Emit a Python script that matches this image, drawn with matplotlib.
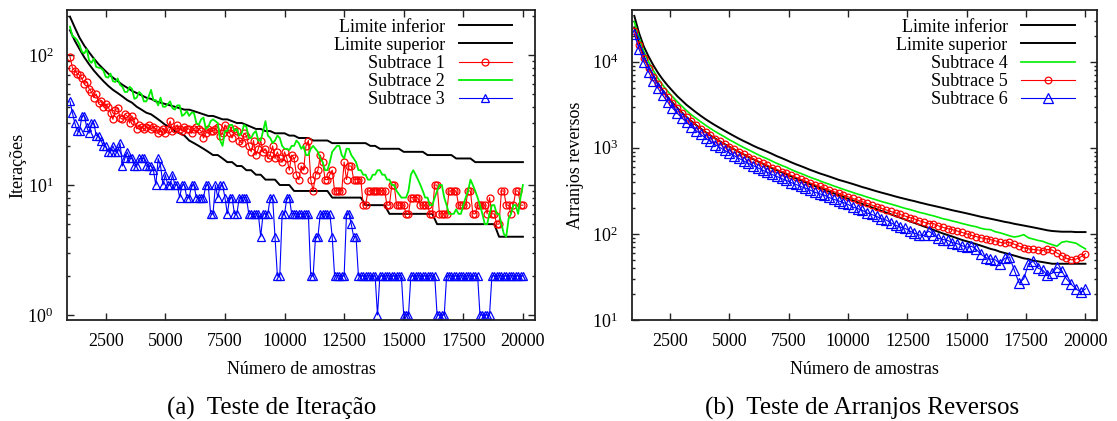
import numpy as np
import matplotlib
matplotlib.use("Agg")
import matplotlib.pyplot as plt
from matplotlib.ticker import LogLocator, NullFormatter, LogFormatterMathtext

plt.rcParams['font.family'] = ['Liberation Serif', 'DejaVu Serif']
plt.rcParams['mathtext.fontset'] = 'custom'
plt.rcParams['mathtext.rm'] = 'Liberation Serif'
plt.rcParams['mathtext.it'] = 'Liberation Serif:italic'

# numero de amostras (eixo x)
amostras = np.arange(1000, 20001, 200)      # limites e grafico (b)
amostras_it = np.arange(1000, 20001, 100)   # subtraces do grafico (a)
xticks = [2500, 5000, 7500, 10000, 12500, 15000, 17500, 20000]

# ---- (a) teste de iteracao ----
it_lim_inf = [155, 129, 111, 96, 85, 76, 69, 63, 58, 54,
              51, 48, 45, 43, 40, 38, 36, 35, 33, 31,
              29, 28, 26, 25, 24, 22, 21, 20, 19, 18,
              17, 17, 16, 15, 15, 14, 14, 13, 13, 12,
              12, 11, 11, 11, 10, 10, 10, 9, 9, 9,
              9, 9, 9, 9, 9, 8, 8, 8, 8, 8,
              8, 8, 7, 7, 7, 7, 7, 6, 6, 6,
              6, 6, 6, 6, 6, 6, 6, 5, 5, 5,
              5, 5, 5, 5, 5, 5, 5, 5, 5, 5,
              4, 4, 4, 4, 4, 4]
it_lim_sup = [197, 163, 136, 118, 105, 94, 85, 78, 72, 67,
              63, 59, 56, 53, 51, 49, 47, 46, 44, 43,
              42, 41, 40, 39, 38, 38, 37, 36, 35, 34,
              34, 33, 32, 32, 31, 30, 30, 29, 28, 27,
              27, 26, 26, 25, 25, 25, 24, 24, 23, 23,
              23, 22, 22, 22, 22, 21, 21, 21, 21, 21,
              21, 21, 21, 20, 20, 19, 19, 19, 19, 19,
              18, 18, 18, 18, 18, 17, 17, 17, 17, 17,
              17, 16, 16, 16, 16, 15, 15, 15, 15, 15,
              15, 15, 15, 15, 15, 15]
subtrace1 = [97, 80, 76, 72, 70, 66, 60, 62, 55, 52,
             47, 50, 43, 44, 40, 42, 40, 36, 32, 38,
             39, 33, 32, 35, 34, 30, 34, 31, 27, 29,
             28, 27, 28, 29, 27, 28, 27, 25, 26, 27,
             25, 27, 31, 26, 27, 29, 27, 26, 28, 27,
             27, 25, 27, 28, 27, 26, 23, 25, 27, 26,
             26, 27, 28, 24, 25, 29, 27, 25, 23, 27,
             26, 22, 21, 25, 24, 20, 18, 22, 17, 19,
             22, 18, 19, 16, 17, 20, 16, 18, 16, 15,
             18, 16, 13, 17, 16, 12, 11, 14, 13, 20,
             22, 11, 9, 12, 13, 17, 15, 11, 11, 12,
             13, 9, 9, 9, 9, 15, 11, 14, 14, 11,
             11, 11, 11, 7, 7, 9, 9, 9, 9, 9,
             9, 9, 9, 7, 7, 10, 10, 7, 7, 7,
             7, 6, 6, 8, 8, 8, 8, 7, 7, 7,
             7, 6, 6, 10, 10, 6, 6, 6, 6, 9,
             9, 9, 9, 7, 7, 7, 7, 9, 9, 6,
             6, 7, 7, 7, 7, 6, 8, 6, 6, 5,
             5, 9, 9, 7, 7, 6, 7, 9, 9, 7,
             7]
subtrace2 = [165, 140, 136, 130, 120, 106, 103, 111, 91, 87,
             94, 81, 80, 79, 76, 68, 67, 72, 63, 62,
             66, 59, 57, 52, 52, 57, 55, 46, 47, 52,
             50, 44, 44, 48, 54, 45, 45, 41, 47, 40,
             40, 42, 44, 39, 38, 41, 41, 34, 35, 37,
             34, 36, 36, 30, 29, 32, 33, 27, 28, 31,
             32, 31, 30, 22, 20, 26, 26, 29, 29, 26,
             27, 24, 25, 29, 28, 23, 23, 25, 26, 22,
             22, 26, 31, 24, 23, 21, 22, 24, 23, 20,
             19, 19, 18.6, 20, 20, 22, 21, 19, 20, 17,
             17, 19, 20, 19, 18, 16, 15, 13, 13, 15,
             18, 19, 20, 20, 17, 16, 19, 19, 17, 16,
             15, 13, 13, 12, 12, 11, 11, 12, 12, 13,
             13, 12, 12, 11, 11, 10, 10, 9, 8.5, 8,
             8, 8, 9, 12, 13, 12, 11, 10, 9, 8,
             8, 7, 7, 8, 9, 10, 10, 8, 7, 6,
             6, 6, 6.5, 6, 6, 7, 8, 9, 11, 10,
             9, 8, 7, 6, 5, 5, 6, 7, 7, 6,
             6, 5, 4.2, 4, 5.5, 6, 7, 7, 6, 8,
             10]
subtrace3 = [44, 36, 30, 26, 26, 34, 34, 28, 25, 30,
             30, 24, 24, 22, 20, 20, 18, 18, 20, 18,
             18, 21, 14, 16, 18, 16, 16, 14, 14, 16,
             16, 16, 14, 14, 14, 13, 10, 16, 14, 10,
             12, 10, 10, 12, 10, 10, 8, 10, 10, 8,
             8, 10, 10, 8, 8, 8, 8, 10, 10, 6,
             6, 10, 8, 10, 10, 8, 6, 8, 8, 6,
             6, 8, 8, 8, 8, 6, 6, 6, 6, 6,
             4, 6, 6, 6, 8, 8, 4, 2, 2, 6,
             6, 8, 8, 6, 6, 6, 6, 6, 6, 6,
             6, 2, 2, 4, 4, 6, 6, 6, 6, 6,
             4, 2, 2, 2, 2, 2, 6, 6, 5, 4,
             4, 2, 2, 2, 2, 2, 2, 2, 2, 1,
             2, 2, 2, 2, 2, 2, 2, 2, 2, 2,
             1, 1, 1, 2, 2, 2, 2, 2, 2, 2,
             2, 2, 2, 2, 1, 1, 1, 1, 2, 2,
             2, 2, 2, 2, 2, 2, 2, 2, 2, 2,
             2, 2, 1, 1, 1, 1, 1, 2, 2, 2,
             2, 2, 2, 2, 2, 2, 2, 2, 2, 2,
             2]

# ---- (b) teste de arranjos reversos ----
ar_lim_inf = [25000, 16500, 11500, 8700, 6900, 5600, 4650, 3930, 3370, 2930,
              2570, 2280, 2040, 1840, 1670, 1520, 1395, 1285, 1190, 1105,
              1030, 960, 895, 840, 785, 740, 695, 655, 615, 580,
              550, 520, 492, 466, 442, 420, 398, 378, 360, 342,
              326, 310, 296, 282, 269, 256, 245, 233, 223, 213,
              203, 194, 185, 177, 169, 161, 154, 147, 140, 134,
              128, 122, 117, 111, 106, 101, 97, 93, 89, 85,
              82, 79, 76, 73, 70, 67, 65, 62, 60, 58,
              56, 54, 52, 51, 49, 48, 47, 46, 45, 45,
              45, 45, 45, 45, 45, 45]
ar_lim_sup = [34000, 21500, 15000, 11500, 9100, 7400, 6200, 5300, 4600, 4000,
              3550, 3150, 2850, 2580, 2350, 2150, 1980, 1830, 1700, 1580,
              1470, 1370, 1280, 1200, 1130, 1060, 1000, 950, 900, 850,
              800, 760, 720, 680, 645, 615, 585, 555, 530, 505,
              485, 465, 445, 425, 410, 395, 380, 365, 350, 338,
              325, 313, 302, 292, 282, 272, 263, 255, 247, 240,
              232, 225, 218, 212, 206, 200, 194, 188, 183, 178,
              173, 168, 163, 158, 154, 150, 146, 142, 138, 135,
              131, 128, 125, 122, 119, 116, 113, 110, 108, 107,
              106, 106, 106, 105, 105, 105]
subtrace4 = [29000, 19000, 13200, 10000, 7900, 6400, 5350, 4550, 3950, 3450,
             3050, 2700, 2420, 2200, 2000, 1830, 1680, 1550, 1440, 1340,
             1240, 1160, 1080, 1010, 950, 890, 835, 785, 745, 700,
             660, 625, 595, 560, 530, 505, 480, 455, 435, 415,
             395, 378, 360, 345, 330, 316, 303, 290, 280, 268,
             258, 248, 238, 230, 222, 214, 206, 198, 192, 185,
             178, 173, 167, 162, 156, 150, 146, 141, 137, 132,
             128, 124, 121, 116, 113, 112, 106, 103, 99, 95,
             92, 94, 98, 90, 87, 84, 82, 78, 75, 72,
             80, 82, 80, 78, 72, 67]
subtrace5 = [23000, 15500, 11000, 8400, 6700, 5450, 4550, 3850, 3300, 2900,
             2550, 2270, 2030, 1830, 1660, 1510, 1390, 1280, 1185, 1100,
             1025, 960, 900, 840, 790, 745, 700, 660, 625, 590,
             560, 530, 505, 480, 455, 432, 412, 392, 373, 356,
             340, 325, 310, 296, 283, 270, 258, 247, 236, 226,
             216, 207, 198, 190, 182, 175, 168, 161, 155, 149,
             142, 137, 131, 132, 124, 119, 115, 112, 108, 104,
             100, 96, 93, 90, 88, 86, 83, 80, 78, 80,
             76, 72, 69, 67, 66, 65, 64, 66, 65, 60,
             56, 52, 50, 51, 54, 59]
subtrace6 = [21000, 14000, 10000, 7600, 6000, 4900, 4050, 3420, 2920, 2530,
             2230, 1970, 1760, 1580, 1430, 1300, 1190, 1090, 1010, 935,
             870, 810, 755, 705, 660, 620, 585, 550, 520, 490,
             465, 440, 418, 395, 376, 357, 340, 323, 305, 292,
             282, 265, 252, 242, 231, 220, 205, 197, 188, 175,
             168, 160, 150, 145, 135, 126, 120, 116, 108, 102,
             97, 96, 108, 98, 89, 86, 84, 79, 77, 73,
             70, 72, 66, 58, 53, 51, 50, 45, 52, 54,
             38, 27, 30, 45, 48, 40, 38, 33, 35, 41,
             37, 30, 26, 23, 21, 23]

FS = 13


def styleAxes(ax, ylim, ylabel):
    ax.set_yscale('log')
    ax.set_xlim(889, 20500)
    ax.set_ylim(*ylim)
    ax.set_xticks(xticks)
    ax.yaxis.set_major_locator(LogLocator(base=10))
    ax.yaxis.set_major_formatter(LogFormatterMathtext())
    ax.yaxis.set_minor_locator(LogLocator(base=10, subs=range(2, 10)))
    ax.yaxis.set_minor_formatter(NullFormatter())
    ax.tick_params(which='both', direction='in', top=True, right=True,
                   labelsize=FS, width=1.0, color='#222222')
    ax.tick_params(which='major', length=5)
    ax.tick_params(which='minor', length=2.5)
    ax.tick_params(axis='x', pad=9.5)
    ax.tick_params(axis='y', pad=10)
    for s in ax.spines.values():
        s.set_linewidth(1.3)
        s.set_color('#222222')
    ax.set_xlabel('Número de amostras', fontsize=FS)
    ax.xaxis.set_label_coords(0.5, -0.133)
    ax.set_ylabel(ylabel, fontsize=FS)


def addLegend(ax):
    ax.legend(loc='upper right', bbox_to_anchor=(0.951, 0.972), frameon=False,
              markerfirst=False, fontsize=FS, handlelength=2.95,
              handletextpad=0.75, labelspacing=0.06, borderpad=0,
              borderaxespad=0)


fig = plt.figure(figsize=(11.17, 4.21), dpi=100)
axA = fig.add_axes([0.0603, 0.2399, 0.4185, 0.7363])
axB = fig.add_axes([0.5655, 0.2399, 0.4169, 0.7363])

# (a)
axA.plot(amostras, it_lim_inf, color='black', lw=1.4, label='Limite inferior')
axA.plot(amostras, it_lim_sup, color='black', lw=1.4, label='Limite superior')
axA.plot(amostras_it, subtrace1, color='red', lw=0.8, marker='o', ms=5,
         mfc='none', mew=0.9, label='Subtrace 1')
axA.plot(amostras_it, subtrace2, color='#00ee00', lw=1.3, label='Subtrace 2')
axA.plot(amostras_it, subtrace3, color='blue', lw=0.8, marker='^', ms=6,
         mfc='none', mew=0.9, label='Subtrace 3')
styleAxes(axA, (0.915, 222), 'Iterações')
axA.yaxis.set_label_coords(-0.088, 0.5)
addLegend(axA)

# (b)
axB.plot(amostras, ar_lim_inf, color='black', lw=1.4, label='Limite inferior')
axB.plot(amostras, ar_lim_sup, color='black', lw=1.4, label='Limite superior')
axB.plot(amostras, subtrace4, color='#00ee00', lw=1.2, label='Subtrace 4')
axB.plot(amostras, subtrace5, color='red', lw=0.8, marker='o', ms=4.8,
         mfc='none', mew=0.9, label='Subtrace 5')
axB.plot(amostras, subtrace6, color='blue', lw=0.8, marker='^', ms=6.5,
         mfc='none', mew=0.9, label='Subtrace 6')
styleAxes(axB, (10, 39800), 'Arranjos reversos')
axB.yaxis.set_label_coords(-0.102, 0.5)
addLegend(axB)

fig.text(0.243, 0.03, '(a)  Teste de Iteração', fontsize=18, ha='center', va='center')
fig.text(0.772, 0.03, '(b)  Teste de Arranjos Reversos', fontsize=18, ha='center', va='center')

fig.savefig('out.png', dpi=100)
